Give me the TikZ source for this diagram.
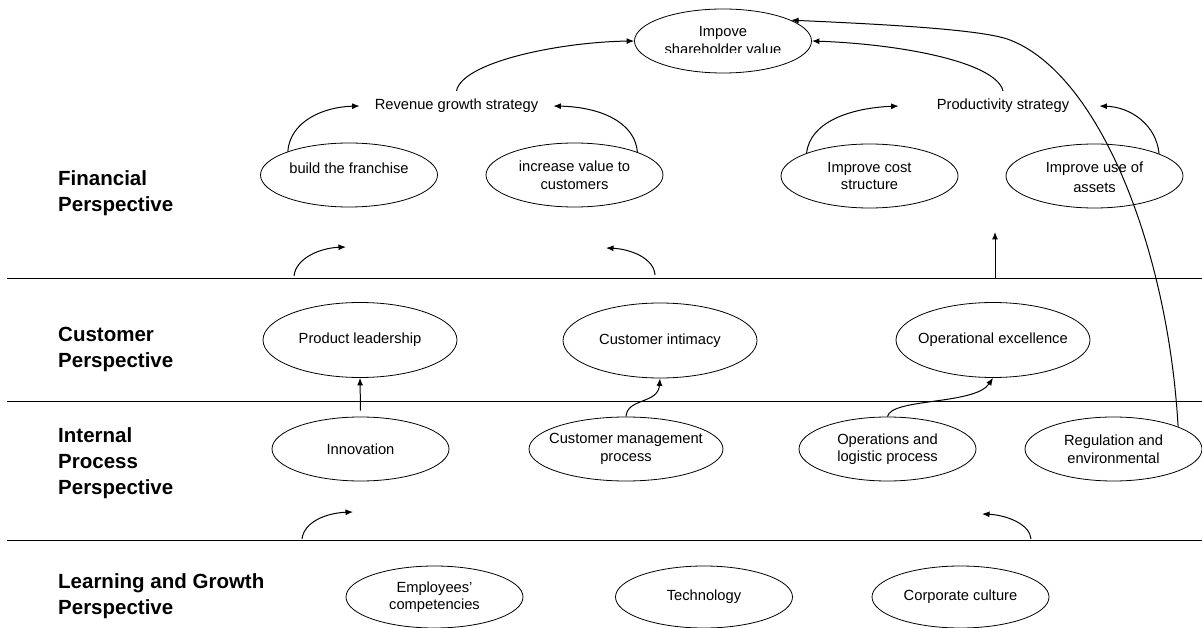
\documentclass[tikz,border=0pt]{standalone}
\usepackage{fontspec}
\setmainfont{Liberation Sans}
\usetikzlibrary{shapes.geometric,arrows.meta}
\begin{document}
\begin{tikzpicture}[x=1pt,y=-1pt,
  txt/.style={font=\fontsize{14.7}{17.5}\selectfont, inner sep=0pt, align=center},
  oval/.style={draw, ellipse, line width=0.8pt, inner sep=0pt,
               minimum width=177pt, minimum height=64pt},
  big/.style={minimum width=194pt},
  tall/.style={minimum height=75pt},
  lab/.style={label={[txt]center:{#1}}},
  head/.style={font=\fontsize{20.5}{26}\selectfont\bfseries,
               anchor=north west, align=left, inner sep=0pt},
  arr/.style={-{Latex[length=7.5pt,width=6pt]}, line width=1pt},
  rule/.style={line width=0.9pt}]

\fill[white] (0,0) rectangle (1202,628);
\useasboundingbox (0,0) rectangle (1202,628);

% perspective separators
\draw[rule] (7,278) -- (1202,278);
\draw[rule] (7,401.5) -- (1202,401.5);
\draw[rule] (7,540.5) -- (1202,540.5);

% perspective headings
\node[head] (hfin) at (58,170.5) {Financial\\Perspective};
\node[head] (hcus) at (58,327) {Customer\\Perspective};
\node[head] (hint) at (58,427.5) {Internal\\Process\\Perspective};
\node[head] (hlrn) at (58,573) {Learning and Growth\\Perspective};

% financial perspective
\node[oval] (imp) at (723,41) {};
\begin{scope}
  \clip (600,0) rectangle (850,53);
  \node[txt, anchor=base] (impa) at (723,37) {Impove};
  \node[txt, anchor=base] (impb) at (723,55) {shareholder value};
\end{scope}

\node[txt] (rev) at (456.5,106) {Revenue growth strategy};
\node[txt] (prod) at (1003,106) {Productivity strategy};

\node[oval, label={[txt, yshift=7pt]center:build the franchise}] (bf) at (349,175) {};
\node[oval, lab={increase value to\\customers}] (iv) at (574.5,175) {};
\node[oval, lab={Improve cost\\structure}] (ic) at (869.5,176) {};
\node[oval] (ia) at (1094.5,176) {};
\begin{scope}
  \clip (1000,140) rectangle (1190,191.5);
  \node[txt, anchor=base] (iaa) at (1094.5,172.5) {Improve use of};
  \node[txt, anchor=base] (iab) at (1094.5,193) {assets};
\end{scope}

% customer perspective
\node[oval, big, tall, lab={Product leadership}] (pl) at (360,340) {};
\node[oval, big, tall, lab={Customer intimacy}] (ci) at (660,340.5) {};
\node[oval, big, tall, lab={Operational excellence}] (oe) at (993,340) {};

% internal process perspective
\node[oval, lab={Innovation}] (inn) at (360.5,449) {};
\node[oval, big, lab={Customer management\\process}] (cm) at (626,449) {};
\node[oval, lab={Operations and\\logistic process}] (ops) at (887.5,449) {};
\node[oval, lab={Regulation and\\environmental}] (reg) at (1113.5,449) {};

% learning and growth perspective
\node[oval, minimum height=62pt, lab={Employees'\\competencies}] (emp) at (434.5,597) {};
\node[oval, minimum height=62pt, lab={Technology}] (tech) at (704,597) {};
\node[oval, minimum height=62pt, lab={Corporate culture}] (cc) at (960.5,597) {};

% strategy links
\draw[arr] (bf.159) .. controls (290,122) and (322,107) .. ([xshift=-15pt]rev.west);
\draw[arr] (iv.20) .. controls (635,122) and (600,107) .. ([xshift=15pt]rev.east);
\draw[arr] ([yshift=8pt]rev.north) .. controls (462,62) and (560,42) .. (imp.west);
\draw[arr] ([yshift=8pt]prod.north) .. controls (996,62) and (900,44) .. (imp.east);
\draw[arr] (ic.160) .. controls (810,122) and (850,108) .. ([xshift=-38pt]prod.west);
\draw[arr] (ia.19) .. controls (1156,124) and (1130,107) .. ([xshift=30pt]prod.east);
\draw[arr] (reg.19) .. controls (1168,250) and (1100,75) .. (1010,40)
           .. controls (985,30.2) and (900,25) .. (imp.17);

% links between perspectives
\coordinate (fa) at (294,276);
\coordinate (fb) at (346,247);
\draw[arr] (fa) .. controls (296,258) and (320,248) .. (fb);
\coordinate (fc) at (655,275);
\coordinate (fd) at (606,248);
\draw[arr] (fc) .. controls (654,258) and (630,249) .. (fd);
\coordinate (fe) at (995,278);
\coordinate (ff) at (995,232);
\draw[arr] (fe) -- (ff);

\draw[arr] ([yshift=6pt]inn.north) -- (pl.south);
\draw[arr] (cm.north) .. controls (627,398) and (658,404) .. (ci.south);
\draw[arr] (ops.north) .. controls (891,398) and (975,405) .. (oe.south);

\coordinate (la) at (302,539);
\coordinate (lb) at (353,512);
\draw[arr] (la) .. controls (304,522) and (326,513) .. (lb);
\coordinate (lc) at (1031,539);
\coordinate (ld) at (982,514);
\draw[arr] (lc) .. controls (1030,524) and (1006,515) .. (ld);

\end{tikzpicture}
\end{document}
